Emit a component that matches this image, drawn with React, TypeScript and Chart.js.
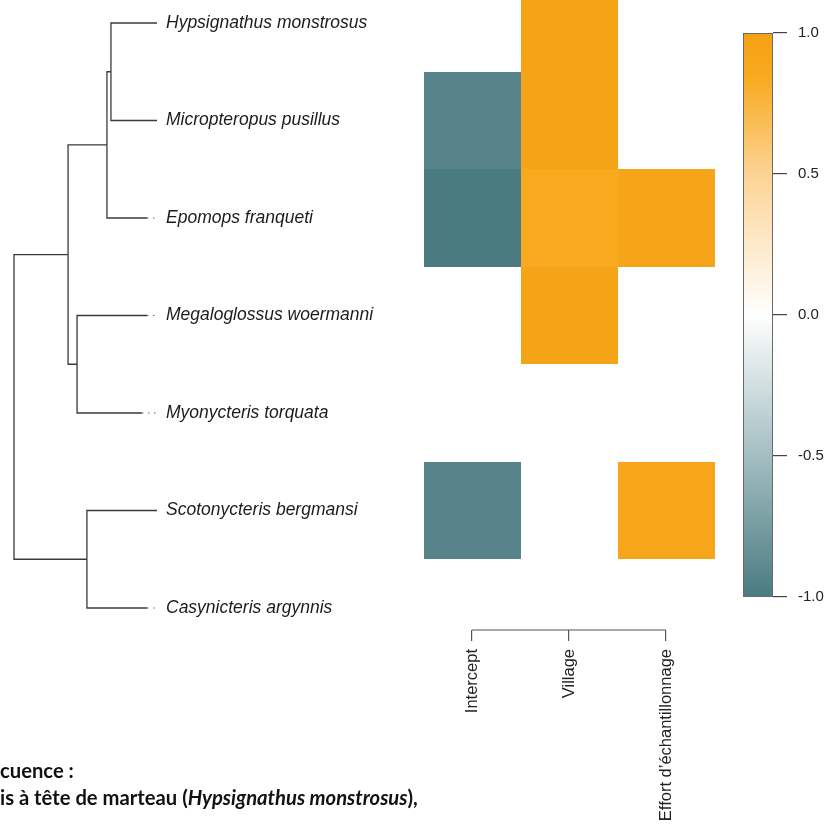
import React, { useEffect, useRef } from "react";
import { Chart, registerables } from "chart.js";

Chart.register(...registerables);

// ---------------- data ----------------
const species = [
  "Hypsignathus monstrosus",
  "Micropteropus pusillus",
  "Epomops franqueti",
  "Megaloglossus woermanni",
  "Myonycteris torquata",
  "Scotonycteris bergmansi",
  "Casynicteris argynnis",
];
const covariates = ["Intercept", "Village", "Effort d’échantillonnage"];
const interceptValues: (number | null)[] = [null, -0.93, -1.0, null, null, -0.93, null];
const villageValues: (number | null)[] = [0.95, 0.95, 0.85, 0.95, null, null, null];
const effortValues: (number | null)[] = [null, null, 0.93, null, null, 0.9, null];
const colorbarTicks = [-1, -0.5, 0, 0.5, 1];

// tree: internal node depths (root = 0, tips = 1)
const nodeDepth: Record<string, number> = { root: 0, A: 0.378, B: 0.65, C: 0.678, D: 0.441, E: 0.51 };
const tipDepth = [1.0, 1.0, 0.93, 0.93, 0.895, 1.0, 0.93];
const treeEdges: [string, string][] = [
  ["root", "A"], ["root", "E"],
  ["A", "B"], ["A", "D"],
  ["B", "C"], ["B", "t2"],
  ["C", "t0"], ["C", "t1"],
  ["D", "t3"], ["D", "t4"],
  ["E", "t5"], ["E", "t6"],
];

const captionLine1 = "cuence :";
const captionLine2a = "is à tête de marteau (";
const captionLine2b = "Hypsignathus monstrosus";
const captionLine2c = "),";

const colorStops: [number, string][] = [
  [-1, "#4a7b81"],
  [-0.5, "#a3bec1"],
  [0, "#ffffff"],
  [0.5, "#fcd394"],
  [0.85, "#f8a91d"],
  [1, "#f4a014"],
];

// ---------------- helpers ----------------
const hex = (h: string) => [1, 3, 5].map((i) => parseInt(h.slice(i, i + 2), 16));
function colorFor(v: number) {
  for (let i = 0; i < colorStops.length - 1; i++) {
    const [a, ca] = colorStops[i];
    const [b, cb] = colorStops[i + 1];
    if (v >= a && v <= b) {
      const t = (v - a) / (b - a);
      const A = hex(ca), B = hex(cb);
      const c = A.map((x, k) => Math.round(x + (B[k] - x) * t));
      return `rgb(${c[0]},${c[1]},${c[2]})`;
    }
  }
  return v < 0 ? colorStops[0][1] : colorStops[colorStops.length - 1][1];
}

function nodeY(id: string): number {
  if (id.startsWith("t")) return Number(id.slice(1));
  const ys = treeEdges.filter((e) => e[0] === id).map((e) => nodeY(e[1]));
  return (Math.min(...ys) + Math.max(...ys)) / 2;
}
function depthOf(id: string): number {
  return id.startsWith("t") ? tipDepth[Number(id.slice(1))] : nodeDepth[id];
}

const LINE = "#3a3a3a";

const treeDatasets: any[] = [
  ...treeEdges.map(([p, c]) => ({
    type: "scatter",
    xAxisID: "xt",
    yAxisID: "y",
    showLine: true,
    pointRadius: 0,
    borderColor: LINE,
    borderWidth: 1.3,
    tension: 0,
    data: [
      { x: depthOf(p), y: nodeY(p) },
      { x: depthOf(p), y: nodeY(c) },
      { x: depthOf(c), y: nodeY(c) },
    ],
  })),
  ...tipDepth
    .map((d, i) => ({ d, i }))
    .filter((o) => o.d < 1)
    .map((o) => ({
      type: "scatter",
      xAxisID: "xt",
      yAxisID: "y",
      showLine: true,
      pointRadius: 0,
      borderColor: "#666",
      borderWidth: 1.2,
      borderDash: [1.5, 4.5],
      data: [
        { x: o.d, y: o.i },
        { x: 1, y: o.i },
      ],
    })),
];

const FONT = '"Liberation Sans", Arial, Helvetica, sans-serif';

const drawPlugin = {
  id: "heatTree",
  beforeDatasetsDraw(chart: any) {
    const { ctx, chartArea } = chart;
    const xs = chart.scales.x;
    const ys = chart.scales.y;
    const yc = chart.scales.yc;
    const cols = [interceptValues, villageValues, effortValues];
    ctx.save();
    cols.forEach((vals, c) => {
      vals.forEach((v, r) => {
        if (v === null) return;
        const x0 = Math.round(xs.getPixelForValue(c - 0.5));
        const x1 = Math.round(xs.getPixelForValue(c + 0.5));
        const ya = Math.round(ys.getPixelForValue(r - 0.5));
        const yb = Math.round(ys.getPixelForValue(r + 0.5));
        ctx.fillStyle = colorFor(v);
        ctx.fillRect(x0, Math.min(ya, yb), x1 - x0, Math.abs(yb - ya));
      });
    });

    // colour bar
    const top = yc.getPixelForValue(1);
    const bot = yc.getPixelForValue(-1);
    const right = chartArea.right;
    const left = right - 30;
    const g = ctx.createLinearGradient(0, top, 0, bot);
    colorStops.forEach(([v, col]) => g.addColorStop((1 - v) / 2, col));
    ctx.fillStyle = g;
    ctx.fillRect(left, top, right - left, bot - top);
    ctx.strokeStyle = "#6a6a6a";
    ctx.lineWidth = 1;
    ctx.strokeRect(left + 0.5, top + 0.5, right - left - 1, bot - top - 1);
    ctx.restore();
  },
  afterDraw(chart: any) {
    const { ctx, chartArea } = chart;
    const xs = chart.scales.x;
    const xt = chart.scales.xt;
    const ys = chart.scales.y;
    ctx.save();
    // species labels
    ctx.fillStyle = "#1c1c1c";
    ctx.font = `italic 17.5px ${FONT}`;
    ctx.textBaseline = "middle";
    ctx.textAlign = "left";
    species.forEach((s, i) => {
      ctx.fillText(s, xt.getPixelForValue(1) + 9, ys.getPixelForValue(i));
    });

    // x-axis line between first and last tick
    ctx.strokeStyle = "#555";
    ctx.lineWidth = 1.2;
    ctx.beginPath();
    ctx.moveTo(xs.getPixelForValue(0), chartArea.bottom);
    ctx.lineTo(xs.getPixelForValue(covariates.length - 1), chartArea.bottom);
    ctx.stroke();

    // caption text (cropped slide text)
    const fam = 'Lato, "Open Sans", sans-serif';
    ctx.fillStyle = "#111";
    ctx.textBaseline = "alphabetic";
    ctx.textAlign = "left";
    let size = 20;
    const measure = (sz: number) => {
      ctx.font = `bold ${sz}px ${fam}`;
      let w = ctx.measureText(captionLine2a).width + ctx.measureText(captionLine2c).width;
      ctx.font = `italic bold ${sz}px ${fam}`;
      w += ctx.measureText(captionLine2b).width;
      return w;
    };
    size = (size * 418) / measure(size);
    ctx.font = `bold ${size}px ${fam}`;
    ctx.fillText(captionLine1, 0, 778);
    let x = 0;
    ctx.fillText(captionLine2a, x, 805);
    x += ctx.measureText(captionLine2a).width;
    ctx.font = `italic bold ${size}px ${fam}`;
    ctx.fillText(captionLine2b, x, 805);
    x += ctx.measureText(captionLine2b).width;
    ctx.font = `bold ${size}px ${fam}`;
    ctx.fillText(captionLine2c, x, 805);
    ctx.restore();
  },
};

export default function App() {
  const ref = useRef<HTMLCanvasElement | null>(null);
  useEffect(() => {
    if (!ref.current) return;
    const chart = new Chart(ref.current, {
      type: "scatter",
      data: { datasets: treeDatasets },
      plugins: [drawPlugin],
      options: {
        animation: false,
        responsive: false,
        events: [],
        layout: { autoPadding: false, padding: 0 },
        plugins: { legend: { display: false }, tooltip: { enabled: false } },
        scales: {
          x: {
            type: "linear",
            position: "bottom",
            min: -4.866,
            max: 3.103,
            afterBuildTicks: (s: any) => {
              s.ticks = covariates.map((_, i) => ({ value: i }));
            },
            afterFit: (s: any) => {
              s.height = 209;
              s.paddingLeft = 0;
              s.paddingRight = 0;
            },
            ticks: {
              autoSkip: false,
              minRotation: 90,
              maxRotation: 90,
              padding: 8,
              color: "#222",
              font: { family: FONT, size: 16.5 },
              callback: (v: any) => covariates[Number(v)] ?? "",
            },
            grid: { drawOnChartArea: false, drawTicks: true, tickLength: 11, color: "#555", lineWidth: 1.2 },
            border: { display: false },
          },
          xt: { type: "linear", axis: "x", position: "bottom", display: false, min: -0.0979, max: 5.308 },
          y: { type: "linear", position: "left", display: false, reverse: true, min: -0.2359, max: 6.2256 },
          yc: {
            type: "linear",
            position: "right",
            min: -1.117,
            max: 1.117,
            afterBuildTicks: (s: any) => {
              s.ticks = colorbarTicks.map((v) => ({ value: v }));
            },
            afterFit: (s: any) => {
              s.width = 51;
              s.paddingTop = 0;
              s.paddingBottom = 0;
            },
            ticks: {
              padding: 11,
              color: "#222",
              font: { family: FONT, size: 15 },
              callback: (v: any) => Number(v).toFixed(1),
            },
            grid: { drawOnChartArea: false, drawTicks: true, tickLength: 14, color: "#444", lineWidth: 1.2 },
            border: { display: false },
          },
        },
      } as any,
    });
    return () => chart.destroy();
  }, []);
  return (
    <div style={{ position: "absolute", left: 0, top: 0, width: 824, height: 839, background: "#fff" }}>
      <canvas ref={ref} width={824} height={839} />
    </div>
  );
}
